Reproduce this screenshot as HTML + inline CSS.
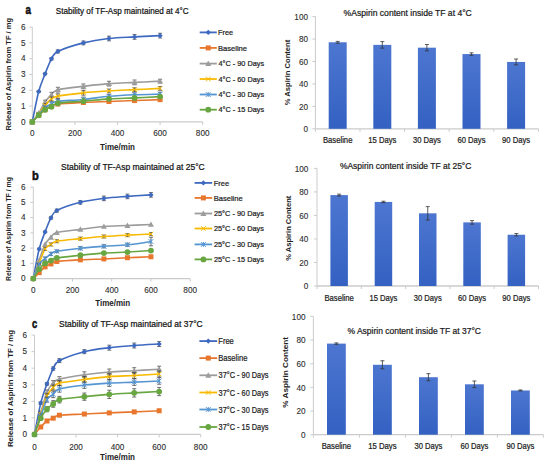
<!DOCTYPE html><html><head><meta charset="utf-8"><style>html,body{margin:0;padding:0;background:#fff;}svg{display:block;}body{width:550px;height:466px;overflow:hidden;}text{font-family:"Liberation Sans", sans-serif;}</style></head><body>
<svg width="550" height="466" viewBox="0 0 550 466">
<defs><linearGradient id="bg" x1="0" y1="0" x2="0" y2="1"><stop offset="0" stop-color="#4C76D0"/><stop offset="1" stop-color="#3461C2"/></linearGradient></defs>
<rect width="550" height="466" fill="#fff"/>
<g stroke="#CBCBCB" stroke-width="1" fill="none">
<line x1="32.30" y1="27.10" x2="32.30" y2="121.90"/>
<line x1="29.30" y1="121.90" x2="32.30" y2="121.90"/>
<line x1="29.30" y1="106.10" x2="32.30" y2="106.10"/>
<line x1="29.30" y1="90.30" x2="32.30" y2="90.30"/>
<line x1="29.30" y1="74.50" x2="32.30" y2="74.50"/>
<line x1="29.30" y1="58.70" x2="32.30" y2="58.70"/>
<line x1="29.30" y1="42.90" x2="32.30" y2="42.90"/>
<line x1="29.30" y1="27.10" x2="32.30" y2="27.10"/>
</g>
<g stroke="#CBCBCB" stroke-width="1.4" fill="none">
<line x1="32.30" y1="121.90" x2="202.70" y2="121.90"/>
</g>
<g stroke="#CBCBCB" stroke-width="1" fill="none">
<line x1="32.30" y1="121.90" x2="32.30" y2="124.90"/>
<line x1="74.90" y1="121.90" x2="74.90" y2="124.90"/>
<line x1="117.50" y1="121.90" x2="117.50" y2="124.90"/>
<line x1="160.10" y1="121.90" x2="160.10" y2="124.90"/>
<line x1="202.70" y1="121.90" x2="202.70" y2="124.90"/>
</g>
<text x="25.50" y="124.65" font-size="8.20" text-anchor="end" fill="#2e2e2e" stroke="#2e2e2e" stroke-width="0.10">0</text>
<text x="25.50" y="108.85" font-size="8.20" text-anchor="end" fill="#2e2e2e" stroke="#2e2e2e" stroke-width="0.10">1</text>
<text x="25.50" y="93.05" font-size="8.20" text-anchor="end" fill="#2e2e2e" stroke="#2e2e2e" stroke-width="0.10">2</text>
<text x="25.50" y="77.25" font-size="8.20" text-anchor="end" fill="#2e2e2e" stroke="#2e2e2e" stroke-width="0.10">3</text>
<text x="25.50" y="61.45" font-size="8.20" text-anchor="end" fill="#2e2e2e" stroke="#2e2e2e" stroke-width="0.10">4</text>
<text x="25.50" y="45.65" font-size="8.20" text-anchor="end" fill="#2e2e2e" stroke="#2e2e2e" stroke-width="0.10">5</text>
<text x="25.50" y="29.85" font-size="8.20" text-anchor="end" fill="#2e2e2e" stroke="#2e2e2e" stroke-width="0.10">6</text>
<text x="32.30" y="136.10" font-size="8.20" text-anchor="middle" fill="#2e2e2e" stroke="#2e2e2e" stroke-width="0.10">0</text>
<text x="74.90" y="136.10" font-size="8.20" text-anchor="middle" fill="#2e2e2e" stroke="#2e2e2e" stroke-width="0.10">200</text>
<text x="117.50" y="136.10" font-size="8.20" text-anchor="middle" fill="#2e2e2e" stroke="#2e2e2e" stroke-width="0.10">400</text>
<text x="160.10" y="136.10" font-size="8.20" text-anchor="middle" fill="#2e2e2e" stroke="#2e2e2e" stroke-width="0.10">600</text>
<text x="202.70" y="136.10" font-size="8.20" text-anchor="middle" fill="#2e2e2e" stroke="#2e2e2e" stroke-width="0.10">800</text>
<path d="M32.30,121.90 C33.36,116.84 36.56,99.57 38.69,91.56 C40.82,83.56 42.95,79.32 45.08,73.87 C47.21,68.42 49.34,62.60 51.47,58.86 C53.60,55.12 52.53,54.09 57.86,51.43 C63.18,48.77 74.90,45.06 83.42,42.90 C91.94,40.74 100.46,39.48 108.98,38.48 C117.50,37.48 126.02,37.37 134.54,36.90 C143.06,36.42 155.84,35.84 160.10,35.63" stroke="#3D69C0" stroke-width="1.6" fill="none"/>
<g stroke="#3a3a3a" stroke-width="0.7">
<path d="M38.69,90.62 V92.51 M36.69,90.62 h4 M36.69,92.51 h4"/>
<path d="M45.08,72.92 V74.82 M43.08,72.92 h4 M43.08,74.82 h4"/>
<path d="M51.47,57.59 V60.12 M49.47,57.59 h4 M49.47,60.12 h4"/>
<path d="M57.86,49.85 V53.01 M55.86,49.85 h4 M55.86,53.01 h4"/>
<path d="M83.42,41.00 V44.80 M81.42,41.00 h4 M81.42,44.80 h4"/>
<path d="M108.98,36.11 V40.85 M106.98,36.11 h4 M106.98,40.85 h4"/>
<path d="M134.54,34.53 V39.27 M132.54,34.53 h4 M132.54,39.27 h4"/>
<path d="M160.10,33.26 V38.00 M158.10,33.26 h4 M158.10,38.00 h4"/>
</g>
<path d="M32.30,119.30 L34.90,121.90 L32.30,124.50 L29.70,121.90 Z" fill="#3D69C0"/>
<path d="M38.69,88.96 L41.29,91.56 L38.69,94.16 L36.09,91.56 Z" fill="#3D69C0"/>
<path d="M45.08,71.27 L47.68,73.87 L45.08,76.47 L42.48,73.87 Z" fill="#3D69C0"/>
<path d="M51.47,56.26 L54.07,58.86 L51.47,61.46 L48.87,58.86 Z" fill="#3D69C0"/>
<path d="M57.86,48.83 L60.46,51.43 L57.86,54.03 L55.26,51.43 Z" fill="#3D69C0"/>
<path d="M83.42,40.30 L86.02,42.90 L83.42,45.50 L80.82,42.90 Z" fill="#3D69C0"/>
<path d="M108.98,35.88 L111.58,38.48 L108.98,41.08 L106.38,38.48 Z" fill="#3D69C0"/>
<path d="M134.54,34.30 L137.14,36.90 L134.54,39.50 L131.94,36.90 Z" fill="#3D69C0"/>
<path d="M160.10,33.03 L162.70,35.63 L160.10,38.23 L157.50,35.63 Z" fill="#3D69C0"/>
<path d="M32.30,121.90 C33.36,120.79 36.56,117.29 38.69,115.26 C40.82,113.24 42.95,111.21 45.08,109.73 C47.21,108.26 49.34,107.36 51.47,106.42 C53.60,105.47 52.53,104.70 57.86,104.05 C63.18,103.39 74.90,102.89 83.42,102.47 C91.94,102.04 100.46,101.83 108.98,101.52 C117.50,101.20 126.02,100.89 134.54,100.57 C143.06,100.25 155.84,99.78 160.10,99.62" stroke="#E8772D" stroke-width="1.6" fill="none"/>
<rect x="29.80" y="119.40" width="5.00" height="5.00" fill="#E8772D"/>
<rect x="36.19" y="112.76" width="5.00" height="5.00" fill="#E8772D"/>
<rect x="42.58" y="107.23" width="5.00" height="5.00" fill="#E8772D"/>
<rect x="48.97" y="103.92" width="5.00" height="5.00" fill="#E8772D"/>
<rect x="55.36" y="101.55" width="5.00" height="5.00" fill="#E8772D"/>
<rect x="80.92" y="99.97" width="5.00" height="5.00" fill="#E8772D"/>
<rect x="106.48" y="99.02" width="5.00" height="5.00" fill="#E8772D"/>
<rect x="132.04" y="98.07" width="5.00" height="5.00" fill="#E8772D"/>
<rect x="157.60" y="97.12" width="5.00" height="5.00" fill="#E8772D"/>
<path d="M32.30,121.90 C33.36,120.45 36.56,116.55 38.69,113.21 C40.82,109.87 42.95,104.92 45.08,101.83 C47.21,98.75 49.34,96.75 51.47,94.72 C53.60,92.70 52.53,91.06 57.86,89.67 C63.18,88.27 74.90,87.35 83.42,86.35 C91.94,85.35 100.46,84.32 108.98,83.66 C117.50,83.01 126.02,82.82 134.54,82.40 C143.06,81.98 155.84,81.35 160.10,81.14" stroke="#9C9C9C" stroke-width="1.6" fill="none"/>
<g stroke="#3a3a3a" stroke-width="0.7">
<path d="M38.69,112.42 V114.00 M36.69,112.42 h4 M36.69,114.00 h4"/>
<path d="M45.08,100.25 V103.41 M43.08,100.25 h4 M43.08,103.41 h4"/>
<path d="M51.47,92.35 V97.09 M49.47,92.35 h4 M49.47,97.09 h4"/>
<path d="M57.86,87.30 V92.04 M55.86,87.30 h4 M55.86,92.04 h4"/>
<path d="M83.42,83.98 V88.72 M81.42,83.98 h4 M81.42,88.72 h4"/>
<path d="M108.98,81.29 V86.03 M106.98,81.29 h4 M106.98,86.03 h4"/>
<path d="M134.54,80.03 V84.77 M132.54,80.03 h4 M132.54,84.77 h4"/>
<path d="M160.10,79.24 V83.03 M158.10,79.24 h4 M158.10,83.03 h4"/>
</g>
<path d="M32.30,118.90 L35.30,124.30 L29.30,124.30 Z" fill="#9C9C9C"/>
<path d="M38.69,110.21 L41.69,115.61 L35.69,115.61 Z" fill="#9C9C9C"/>
<path d="M45.08,98.83 L48.08,104.23 L42.08,104.23 Z" fill="#9C9C9C"/>
<path d="M51.47,91.72 L54.47,97.12 L48.47,97.12 Z" fill="#9C9C9C"/>
<path d="M57.86,86.67 L60.86,92.07 L54.86,92.07 Z" fill="#9C9C9C"/>
<path d="M83.42,83.35 L86.42,88.75 L80.42,88.75 Z" fill="#9C9C9C"/>
<path d="M108.98,80.66 L111.98,86.06 L105.98,86.06 Z" fill="#9C9C9C"/>
<path d="M134.54,79.40 L137.54,84.80 L131.54,84.80 Z" fill="#9C9C9C"/>
<path d="M160.10,78.14 L163.10,83.54 L157.10,83.54 Z" fill="#9C9C9C"/>
<path d="M32.30,121.90 C33.36,120.58 36.56,116.77 38.69,114.00 C40.82,111.23 42.95,107.81 45.08,105.31 C47.21,102.81 49.34,100.52 51.47,98.99 C53.60,97.46 52.53,97.17 57.86,96.15 C63.18,95.12 74.90,93.70 83.42,92.83 C91.94,91.96 100.46,91.46 108.98,90.93 C117.50,90.41 126.02,90.09 134.54,89.67 C143.06,89.25 155.84,88.61 160.10,88.40" stroke="#F8BA00" stroke-width="1.6" fill="none"/>
<g stroke="#3a3a3a" stroke-width="0.7">
<path d="M38.69,113.21 V114.79 M36.69,113.21 h4 M36.69,114.79 h4"/>
<path d="M45.08,103.73 V106.89 M43.08,103.73 h4 M43.08,106.89 h4"/>
<path d="M51.47,97.09 V100.89 M49.47,97.09 h4 M49.47,100.89 h4"/>
<path d="M57.86,93.78 V98.52 M55.86,93.78 h4 M55.86,98.52 h4"/>
<path d="M83.42,90.46 V95.20 M81.42,90.46 h4 M81.42,95.20 h4"/>
<path d="M108.98,89.04 V92.83 M106.98,89.04 h4 M106.98,92.83 h4"/>
<path d="M134.54,87.77 V91.56 M132.54,87.77 h4 M132.54,91.56 h4"/>
<path d="M160.10,86.51 V90.30 M158.10,86.51 h4 M158.10,90.30 h4"/>
</g>
<path d="M30.00,119.60 L34.60,124.20 M30.00,124.20 L34.60,119.60" stroke="#F8BA00" stroke-width="1"/>
<path d="M36.39,111.70 L40.99,116.30 M36.39,116.30 L40.99,111.70" stroke="#F8BA00" stroke-width="1"/>
<path d="M42.78,103.01 L47.38,107.61 M42.78,107.61 L47.38,103.01" stroke="#F8BA00" stroke-width="1"/>
<path d="M49.17,96.69 L53.77,101.29 M49.17,101.29 L53.77,96.69" stroke="#F8BA00" stroke-width="1"/>
<path d="M55.56,93.85 L60.16,98.45 M55.56,98.45 L60.16,93.85" stroke="#F8BA00" stroke-width="1"/>
<path d="M81.12,90.53 L85.72,95.13 M81.12,95.13 L85.72,90.53" stroke="#F8BA00" stroke-width="1"/>
<path d="M106.68,88.63 L111.28,93.23 M106.68,93.23 L111.28,88.63" stroke="#F8BA00" stroke-width="1"/>
<path d="M132.24,87.37 L136.84,91.97 M132.24,91.97 L136.84,87.37" stroke="#F8BA00" stroke-width="1"/>
<path d="M157.80,86.10 L162.40,90.70 M157.80,90.70 L162.40,86.10" stroke="#F8BA00" stroke-width="1"/>
<path d="M32.30,121.90 C33.36,120.72 36.56,117.16 38.69,114.79 C40.82,112.42 42.95,109.52 45.08,107.68 C47.21,105.84 49.34,104.81 51.47,103.73 C53.60,102.65 52.53,101.91 57.86,101.20 C63.18,100.49 74.90,100.28 83.42,99.46 C91.94,98.65 100.46,97.09 108.98,96.30 C117.50,95.51 126.02,95.09 134.54,94.72 C143.06,94.36 155.84,94.20 160.10,94.09" stroke="#5595D2" stroke-width="1.6" fill="none"/>
<g stroke="#3a3a3a" stroke-width="0.7">
<path d="M38.69,114.00 V115.58 M36.69,114.00 h4 M36.69,115.58 h4"/>
<path d="M45.08,106.10 V109.26 M43.08,106.10 h4 M43.08,109.26 h4"/>
<path d="M51.47,101.83 V105.63 M49.47,101.83 h4 M49.47,105.63 h4"/>
<path d="M57.86,99.31 V103.10 M55.86,99.31 h4 M55.86,103.10 h4"/>
<path d="M83.42,97.09 V101.83 M81.42,97.09 h4 M81.42,101.83 h4"/>
<path d="M108.98,94.41 V98.20 M106.98,94.41 h4 M106.98,98.20 h4"/>
<path d="M134.54,92.83 V96.62 M132.54,92.83 h4 M132.54,96.62 h4"/>
<path d="M160.10,92.20 V95.99 M158.10,92.20 h4 M158.10,95.99 h4"/>
</g>
<path d="M29.90,119.50 L34.70,124.30 M29.90,124.30 L34.70,119.50 M32.30,119.50 L32.30,124.30" stroke="#5595D2" stroke-width="1"/>
<path d="M36.29,112.39 L41.09,117.19 M36.29,117.19 L41.09,112.39 M38.69,112.39 L38.69,117.19" stroke="#5595D2" stroke-width="1"/>
<path d="M42.68,105.28 L47.48,110.08 M42.68,110.08 L47.48,105.28 M45.08,105.28 L45.08,110.08" stroke="#5595D2" stroke-width="1"/>
<path d="M49.07,101.33 L53.87,106.13 M49.07,106.13 L53.87,101.33 M51.47,101.33 L51.47,106.13" stroke="#5595D2" stroke-width="1"/>
<path d="M55.46,98.80 L60.26,103.60 M55.46,103.60 L60.26,98.80 M57.86,98.80 L57.86,103.60" stroke="#5595D2" stroke-width="1"/>
<path d="M81.02,97.06 L85.82,101.86 M81.02,101.86 L85.82,97.06 M83.42,97.06 L83.42,101.86" stroke="#5595D2" stroke-width="1"/>
<path d="M106.58,93.90 L111.38,98.70 M106.58,98.70 L111.38,93.90 M108.98,93.90 L108.98,98.70" stroke="#5595D2" stroke-width="1"/>
<path d="M132.14,92.32 L136.94,97.12 M132.14,97.12 L136.94,92.32 M134.54,92.32 L134.54,97.12" stroke="#5595D2" stroke-width="1"/>
<path d="M157.70,91.69 L162.50,96.49 M157.70,96.49 L162.50,91.69 M160.10,91.69 L160.10,96.49" stroke="#5595D2" stroke-width="1"/>
<path d="M32.30,121.90 C33.36,120.79 36.56,117.29 38.69,115.26 C40.82,113.24 42.95,111.16 45.08,109.73 C47.21,108.31 49.34,107.81 51.47,106.73 C53.60,105.65 52.53,104.18 57.86,103.26 C63.18,102.33 74.90,101.94 83.42,101.20 C91.94,100.46 100.46,99.39 108.98,98.83 C117.50,98.28 126.02,98.25 134.54,97.88 C143.06,97.52 155.84,96.83 160.10,96.62" stroke="#68A642" stroke-width="1.6" fill="none"/>
<circle cx="32.30" cy="121.90" r="2.90" fill="#68A642"/>
<circle cx="38.69" cy="115.26" r="2.90" fill="#68A642"/>
<circle cx="45.08" cy="109.73" r="2.90" fill="#68A642"/>
<circle cx="51.47" cy="106.73" r="2.90" fill="#68A642"/>
<circle cx="57.86" cy="103.26" r="2.90" fill="#68A642"/>
<circle cx="83.42" cy="101.20" r="2.90" fill="#68A642"/>
<circle cx="108.98" cy="98.83" r="2.90" fill="#68A642"/>
<circle cx="134.54" cy="97.88" r="2.90" fill="#68A642"/>
<circle cx="160.10" cy="96.62" r="2.90" fill="#68A642"/>
<text x="55.74" y="13.60" font-size="8.70" text-anchor="start" fill="#111" stroke="#111" stroke-width="0.22" textLength="132.86" lengthAdjust="spacingAndGlyphs">Stability of TF-Asp maintained at 4°C</text>
<text x="25.62" y="14.00" font-size="13.20" text-anchor="start" fill="#111" font-weight="bold" stroke="#111" stroke-width="0.60" textLength="5.42" lengthAdjust="spacingAndGlyphs">a</text>
<text x="117.50" y="149.50" font-size="8.20" text-anchor="middle" fill="#222" font-weight="bold" textLength="35.00" lengthAdjust="spacingAndGlyphs">Time/min</text>
<text x="11.30" y="74.30" font-size="7.80" text-anchor="middle" fill="#222" font-weight="bold" textLength="112.60" lengthAdjust="spacingAndGlyphs" transform="rotate(-90 11.30 74.30)">Release of Aspirin from TF / mg</text>
<line x1="199.70" y1="32.40" x2="216.80" y2="32.40" stroke="#3D69C0" stroke-width="1.8"/>
<path d="M208.25,29.80 L210.85,32.40 L208.25,35.00 L205.65,32.40 Z" fill="#3D69C0"/>
<text x="218.00" y="35.00" font-size="7.60" text-anchor="start" fill="#222" stroke="#222" stroke-width="0.22" textLength="15.02" lengthAdjust="spacingAndGlyphs">Free</text>
<line x1="199.70" y1="47.90" x2="216.80" y2="47.90" stroke="#E8772D" stroke-width="1.8"/>
<rect x="205.75" y="45.40" width="5.00" height="5.00" fill="#E8772D"/>
<text x="217.98" y="50.50" font-size="7.60" text-anchor="start" fill="#222" stroke="#222" stroke-width="0.22" textLength="29.05" lengthAdjust="spacingAndGlyphs">Baseline</text>
<line x1="199.70" y1="63.60" x2="216.80" y2="63.60" stroke="#9C9C9C" stroke-width="1.8"/>
<path d="M208.25,60.60 L211.25,66.00 L205.25,66.00 Z" fill="#9C9C9C"/>
<text x="218.44" y="66.20" font-size="7.60" text-anchor="start" fill="#222" stroke="#222" stroke-width="0.22" textLength="45.73" lengthAdjust="spacingAndGlyphs">4°C - 90 Days</text>
<line x1="199.70" y1="79.00" x2="216.80" y2="79.00" stroke="#F8BA00" stroke-width="1.8"/>
<path d="M205.95,76.70 L210.55,81.30 M205.95,81.30 L210.55,76.70" stroke="#F8BA00" stroke-width="1"/>
<text x="218.44" y="81.60" font-size="7.60" text-anchor="start" fill="#222" stroke="#222" stroke-width="0.22" textLength="45.73" lengthAdjust="spacingAndGlyphs">4°C - 60 Days</text>
<line x1="199.70" y1="94.50" x2="216.80" y2="94.50" stroke="#5595D2" stroke-width="1.8"/>
<path d="M205.85,92.10 L210.65,96.90 M205.85,96.90 L210.65,92.10 M208.25,92.10 L208.25,96.90" stroke="#5595D2" stroke-width="1"/>
<text x="218.44" y="97.10" font-size="7.60" text-anchor="start" fill="#222" stroke="#222" stroke-width="0.22" textLength="45.73" lengthAdjust="spacingAndGlyphs">4°C - 30 Days</text>
<line x1="199.70" y1="109.70" x2="216.80" y2="109.70" stroke="#68A642" stroke-width="1.8"/>
<circle cx="208.25" cy="109.70" r="2.90" fill="#68A642"/>
<text x="218.44" y="112.30" font-size="7.60" text-anchor="start" fill="#222" stroke="#222" stroke-width="0.22" textLength="45.73" lengthAdjust="spacingAndGlyphs">4°C - 15 Days</text>
<g stroke="#CBCBCB" stroke-width="1" fill="none">
<line x1="33.30" y1="187.10" x2="33.30" y2="278.60"/>
<line x1="30.30" y1="278.60" x2="33.30" y2="278.60"/>
<line x1="30.30" y1="263.35" x2="33.30" y2="263.35"/>
<line x1="30.30" y1="248.10" x2="33.30" y2="248.10"/>
<line x1="30.30" y1="232.85" x2="33.30" y2="232.85"/>
<line x1="30.30" y1="217.60" x2="33.30" y2="217.60"/>
<line x1="30.30" y1="202.35" x2="33.30" y2="202.35"/>
<line x1="30.30" y1="187.10" x2="33.30" y2="187.10"/>
</g>
<g stroke="#CBCBCB" stroke-width="1.4" fill="none">
<line x1="33.30" y1="278.60" x2="190.20" y2="278.60"/>
</g>
<g stroke="#CBCBCB" stroke-width="1" fill="none">
<line x1="33.30" y1="278.60" x2="33.30" y2="281.60"/>
<line x1="72.52" y1="278.60" x2="72.52" y2="281.60"/>
<line x1="111.75" y1="278.60" x2="111.75" y2="281.60"/>
<line x1="150.97" y1="278.60" x2="150.97" y2="281.60"/>
<line x1="190.20" y1="278.60" x2="190.20" y2="281.60"/>
</g>
<text x="25.50" y="281.35" font-size="8.20" text-anchor="end" fill="#2e2e2e" stroke="#2e2e2e" stroke-width="0.10">0</text>
<text x="25.50" y="266.10" font-size="8.20" text-anchor="end" fill="#2e2e2e" stroke="#2e2e2e" stroke-width="0.10">1</text>
<text x="25.50" y="250.85" font-size="8.20" text-anchor="end" fill="#2e2e2e" stroke="#2e2e2e" stroke-width="0.10">2</text>
<text x="25.50" y="235.60" font-size="8.20" text-anchor="end" fill="#2e2e2e" stroke="#2e2e2e" stroke-width="0.10">3</text>
<text x="25.50" y="220.35" font-size="8.20" text-anchor="end" fill="#2e2e2e" stroke="#2e2e2e" stroke-width="0.10">4</text>
<text x="25.50" y="205.10" font-size="8.20" text-anchor="end" fill="#2e2e2e" stroke="#2e2e2e" stroke-width="0.10">5</text>
<text x="25.50" y="189.85" font-size="8.20" text-anchor="end" fill="#2e2e2e" stroke="#2e2e2e" stroke-width="0.10">6</text>
<text x="33.30" y="292.90" font-size="8.20" text-anchor="middle" fill="#2e2e2e" stroke="#2e2e2e" stroke-width="0.10">0</text>
<text x="72.52" y="292.90" font-size="8.20" text-anchor="middle" fill="#2e2e2e" stroke="#2e2e2e" stroke-width="0.10">200</text>
<text x="111.75" y="292.90" font-size="8.20" text-anchor="middle" fill="#2e2e2e" stroke="#2e2e2e" stroke-width="0.10">400</text>
<text x="150.97" y="292.90" font-size="8.20" text-anchor="middle" fill="#2e2e2e" stroke="#2e2e2e" stroke-width="0.10">600</text>
<text x="190.20" y="292.90" font-size="8.20" text-anchor="middle" fill="#2e2e2e" stroke="#2e2e2e" stroke-width="0.10">800</text>
<path d="M33.30,278.60 C34.28,273.67 37.22,256.79 39.18,249.02 C41.14,241.24 43.11,237.12 45.07,231.94 C47.03,226.75 48.99,221.46 50.95,217.91 C52.91,214.35 51.93,213.18 56.83,210.59 C61.74,207.99 72.52,204.38 80.37,202.35 C88.21,200.32 96.06,199.38 103.90,198.39 C111.75,197.39 119.59,196.99 127.44,196.40 C135.28,195.82 147.05,195.13 150.97,194.88" stroke="#3D69C0" stroke-width="1.6" fill="none"/>
<g stroke="#3a3a3a" stroke-width="0.7">
<path d="M39.18,248.10 V249.93 M37.18,248.10 h4 M37.18,249.93 h4"/>
<path d="M45.07,231.02 V232.85 M43.07,231.02 h4 M43.07,232.85 h4"/>
<path d="M50.95,216.69 V219.13 M48.95,216.69 h4 M48.95,219.13 h4"/>
<path d="M56.83,209.06 V212.11 M54.83,209.06 h4 M54.83,212.11 h4"/>
<path d="M80.37,200.52 V204.18 M78.37,200.52 h4 M78.37,204.18 h4"/>
<path d="M103.90,196.10 V200.67 M101.90,196.10 h4 M101.90,200.67 h4"/>
<path d="M127.44,194.12 V198.69 M125.44,194.12 h4 M125.44,198.69 h4"/>
<path d="M150.97,192.59 V197.17 M148.97,192.59 h4 M148.97,197.17 h4"/>
</g>
<path d="M33.30,276.00 L35.90,278.60 L33.30,281.20 L30.70,278.60 Z" fill="#3D69C0"/>
<path d="M39.18,246.42 L41.78,249.02 L39.18,251.62 L36.58,249.02 Z" fill="#3D69C0"/>
<path d="M45.07,229.34 L47.67,231.94 L45.07,234.54 L42.47,231.94 Z" fill="#3D69C0"/>
<path d="M50.95,215.31 L53.55,217.91 L50.95,220.51 L48.35,217.91 Z" fill="#3D69C0"/>
<path d="M56.83,207.99 L59.43,210.59 L56.83,213.19 L54.23,210.59 Z" fill="#3D69C0"/>
<path d="M80.37,199.75 L82.97,202.35 L80.37,204.95 L77.77,202.35 Z" fill="#3D69C0"/>
<path d="M103.90,195.79 L106.50,198.39 L103.90,200.99 L101.30,198.39 Z" fill="#3D69C0"/>
<path d="M127.44,193.80 L130.04,196.40 L127.44,199.00 L124.84,196.40 Z" fill="#3D69C0"/>
<path d="M150.97,192.28 L153.57,194.88 L150.97,197.48 L148.37,194.88 Z" fill="#3D69C0"/>
<path d="M33.30,278.60 C34.28,277.61 37.22,274.61 39.18,272.65 C41.14,270.70 43.11,268.31 45.07,266.86 C47.03,265.41 48.99,264.85 50.95,263.96 C52.91,263.07 51.93,262.21 56.83,261.52 C61.74,260.83 72.52,260.27 80.37,259.84 C88.21,259.41 96.06,259.28 103.90,258.93 C111.75,258.57 119.59,258.06 127.44,257.71 C135.28,257.35 147.05,256.95 150.97,256.79" stroke="#E8772D" stroke-width="1.6" fill="none"/>
<rect x="30.80" y="276.10" width="5.00" height="5.00" fill="#E8772D"/>
<rect x="36.68" y="270.15" width="5.00" height="5.00" fill="#E8772D"/>
<rect x="42.57" y="264.36" width="5.00" height="5.00" fill="#E8772D"/>
<rect x="48.45" y="261.46" width="5.00" height="5.00" fill="#E8772D"/>
<rect x="54.33" y="259.02" width="5.00" height="5.00" fill="#E8772D"/>
<rect x="77.87" y="257.34" width="5.00" height="5.00" fill="#E8772D"/>
<rect x="101.40" y="256.43" width="5.00" height="5.00" fill="#E8772D"/>
<rect x="124.94" y="255.21" width="5.00" height="5.00" fill="#E8772D"/>
<rect x="148.47" y="254.29" width="5.00" height="5.00" fill="#E8772D"/>
<path d="M33.30,278.60 C34.28,275.55 37.22,265.99 39.18,260.30 C41.14,254.61 43.11,248.28 45.07,244.44 C47.03,240.60 48.99,239.26 50.95,237.27 C52.91,235.29 51.93,233.87 56.83,232.55 C61.74,231.22 72.52,230.36 80.37,229.34 C88.21,228.33 96.06,227.08 103.90,226.45 C111.75,225.81 119.59,225.86 127.44,225.53 C135.28,225.20 147.05,224.64 150.97,224.46" stroke="#9C9C9C" stroke-width="1.6" fill="none"/>
<path d="M33.30,275.60 L36.30,281.00 L30.30,281.00 Z" fill="#9C9C9C"/>
<path d="M39.18,257.30 L42.18,262.70 L36.18,262.70 Z" fill="#9C9C9C"/>
<path d="M45.07,241.44 L48.07,246.84 L42.07,246.84 Z" fill="#9C9C9C"/>
<path d="M50.95,234.27 L53.95,239.67 L47.95,239.67 Z" fill="#9C9C9C"/>
<path d="M56.83,229.55 L59.83,234.95 L53.83,234.95 Z" fill="#9C9C9C"/>
<path d="M80.37,226.34 L83.37,231.74 L77.37,231.74 Z" fill="#9C9C9C"/>
<path d="M103.90,223.45 L106.90,228.85 L100.90,228.85 Z" fill="#9C9C9C"/>
<path d="M127.44,222.53 L130.44,227.93 L124.44,227.93 Z" fill="#9C9C9C"/>
<path d="M150.97,221.46 L153.97,226.86 L147.97,226.86 Z" fill="#9C9C9C"/>
<path d="M33.30,278.60 C34.28,276.06 37.22,268.31 39.18,263.35 C41.14,258.39 43.11,252.01 45.07,248.86 C47.03,245.71 48.99,245.71 50.95,244.44 C52.91,243.17 51.93,242.20 56.83,241.24 C61.74,240.27 72.52,239.43 80.37,238.65 C88.21,237.86 96.06,237.09 103.90,236.51 C111.75,235.93 119.59,235.54 127.44,235.14 C135.28,234.73 147.05,234.25 150.97,234.07" stroke="#F8BA00" stroke-width="1.6" fill="none"/>
<g stroke="#3a3a3a" stroke-width="0.7">
<path d="M39.18,262.59 V264.11 M37.18,262.59 h4 M37.18,264.11 h4"/>
<path d="M45.07,247.34 V250.39 M43.07,247.34 h4 M43.07,250.39 h4"/>
<path d="M50.95,242.92 V245.97 M48.95,242.92 h4 M48.95,245.97 h4"/>
<path d="M56.83,239.71 V242.76 M54.83,239.71 h4 M54.83,242.76 h4"/>
<path d="M80.37,237.12 V240.17 M78.37,237.12 h4 M78.37,240.17 h4"/>
<path d="M103.90,234.99 V238.04 M101.90,234.99 h4 M101.90,238.04 h4"/>
<path d="M127.44,233.61 V236.66 M125.44,233.61 h4 M125.44,236.66 h4"/>
<path d="M150.97,232.55 V235.60 M148.97,232.55 h4 M148.97,235.60 h4"/>
</g>
<path d="M31.00,276.30 L35.60,280.90 M31.00,280.90 L35.60,276.30" stroke="#F8BA00" stroke-width="1"/>
<path d="M36.88,261.05 L41.48,265.65 M36.88,265.65 L41.48,261.05" stroke="#F8BA00" stroke-width="1"/>
<path d="M42.77,246.56 L47.37,251.16 M42.77,251.16 L47.37,246.56" stroke="#F8BA00" stroke-width="1"/>
<path d="M48.65,242.14 L53.25,246.74 M48.65,246.74 L53.25,242.14" stroke="#F8BA00" stroke-width="1"/>
<path d="M54.53,238.94 L59.13,243.54 M54.53,243.54 L59.13,238.94" stroke="#F8BA00" stroke-width="1"/>
<path d="M78.07,236.35 L82.67,240.95 M78.07,240.95 L82.67,236.35" stroke="#F8BA00" stroke-width="1"/>
<path d="M101.60,234.21 L106.20,238.81 M101.60,238.81 L106.20,234.21" stroke="#F8BA00" stroke-width="1"/>
<path d="M125.14,232.84 L129.74,237.44 M125.14,237.44 L129.74,232.84" stroke="#F8BA00" stroke-width="1"/>
<path d="M148.67,231.77 L153.27,236.37 M148.67,236.37 L153.27,231.77" stroke="#F8BA00" stroke-width="1"/>
<path d="M33.30,278.60 C34.28,276.19 37.22,267.44 39.18,264.11 C41.14,260.78 43.11,260.33 45.07,258.62 C47.03,256.92 48.99,255.12 50.95,253.90 C52.91,252.68 51.93,252.24 56.83,251.30 C61.74,250.36 72.52,249.09 80.37,248.25 C88.21,247.41 96.06,246.85 103.90,246.27 C111.75,245.69 119.59,245.53 127.44,244.75 C135.28,243.96 147.05,242.08 150.97,241.54" stroke="#5595D2" stroke-width="1.6" fill="none"/>
<g stroke="#3a3a3a" stroke-width="0.7">
<path d="M39.18,263.35 V264.88 M37.18,263.35 h4 M37.18,264.88 h4"/>
<path d="M45.07,257.10 V260.15 M43.07,257.10 h4 M43.07,260.15 h4"/>
<path d="M50.95,252.37 V255.42 M48.95,252.37 h4 M48.95,255.42 h4"/>
<path d="M56.83,250.08 V252.52 M54.83,250.08 h4 M54.83,252.52 h4"/>
<path d="M80.37,246.73 V249.78 M78.37,246.73 h4 M78.37,249.78 h4"/>
<path d="M103.90,244.75 V247.80 M101.90,244.75 h4 M101.90,247.80 h4"/>
<path d="M127.44,243.22 V246.27 M125.44,243.22 h4 M125.44,246.27 h4"/>
<path d="M150.97,237.27 V245.81 M148.97,237.27 h4 M148.97,245.81 h4"/>
</g>
<path d="M30.90,276.20 L35.70,281.00 M30.90,281.00 L35.70,276.20 M33.30,276.20 L33.30,281.00" stroke="#5595D2" stroke-width="1"/>
<path d="M36.78,261.71 L41.58,266.51 M36.78,266.51 L41.58,261.71 M39.18,261.71 L39.18,266.51" stroke="#5595D2" stroke-width="1"/>
<path d="M42.67,256.22 L47.47,261.02 M42.67,261.02 L47.47,256.22 M45.07,256.22 L45.07,261.02" stroke="#5595D2" stroke-width="1"/>
<path d="M48.55,251.50 L53.35,256.30 M48.55,256.30 L53.35,251.50 M50.95,251.50 L50.95,256.30" stroke="#5595D2" stroke-width="1"/>
<path d="M54.43,248.90 L59.23,253.70 M54.43,253.70 L59.23,248.90 M56.83,248.90 L56.83,253.70" stroke="#5595D2" stroke-width="1"/>
<path d="M77.97,245.85 L82.77,250.65 M77.97,250.65 L82.77,245.85 M80.37,245.85 L80.37,250.65" stroke="#5595D2" stroke-width="1"/>
<path d="M101.50,243.87 L106.30,248.67 M101.50,248.67 L106.30,243.87 M103.90,243.87 L103.90,248.67" stroke="#5595D2" stroke-width="1"/>
<path d="M125.04,242.34 L129.84,247.15 M125.04,247.15 L129.84,242.34 M127.44,242.34 L127.44,247.15" stroke="#5595D2" stroke-width="1"/>
<path d="M148.57,239.14 L153.37,243.94 M148.57,243.94 L153.37,239.14 M150.97,239.14 L150.97,243.94" stroke="#5595D2" stroke-width="1"/>
<path d="M33.30,278.60 C34.28,277.02 37.22,271.69 39.18,269.15 C41.14,266.60 43.11,264.77 45.07,263.35 C47.03,261.93 48.99,261.52 50.95,260.61 C52.91,259.69 51.93,258.75 56.83,257.86 C61.74,256.97 72.52,256.06 80.37,255.27 C88.21,254.48 96.06,253.67 103.90,253.13 C111.75,252.60 119.59,252.50 127.44,252.07 C135.28,251.63 147.05,250.79 150.97,250.54" stroke="#68A642" stroke-width="1.6" fill="none"/>
<circle cx="33.30" cy="278.60" r="2.90" fill="#68A642"/>
<circle cx="39.18" cy="269.15" r="2.90" fill="#68A642"/>
<circle cx="45.07" cy="263.35" r="2.90" fill="#68A642"/>
<circle cx="50.95" cy="260.61" r="2.90" fill="#68A642"/>
<circle cx="56.83" cy="257.86" r="2.90" fill="#68A642"/>
<circle cx="80.37" cy="255.27" r="2.90" fill="#68A642"/>
<circle cx="103.90" cy="253.13" r="2.90" fill="#68A642"/>
<circle cx="127.44" cy="252.07" r="2.90" fill="#68A642"/>
<circle cx="150.97" cy="250.54" r="2.90" fill="#68A642"/>
<text x="61.12" y="170.00" font-size="8.70" text-anchor="start" fill="#111" stroke="#111" stroke-width="0.22" textLength="143.59" lengthAdjust="spacingAndGlyphs">Stability of TF-Asp maintained at 25°C</text>
<text x="31.98" y="180.10" font-size="13.20" text-anchor="start" fill="#111" font-weight="bold" stroke="#111" stroke-width="0.60" textLength="6.77" lengthAdjust="spacingAndGlyphs">b</text>
<text x="112.70" y="305.60" font-size="8.20" text-anchor="middle" fill="#222" font-weight="bold" textLength="35.00" lengthAdjust="spacingAndGlyphs">Time/min</text>
<text x="11.40" y="229.00" font-size="7.80" text-anchor="middle" fill="#222" font-weight="bold" textLength="104.00" lengthAdjust="spacingAndGlyphs" transform="rotate(-90 11.40 229.00)">Release of Aspirin from TF / mg</text>
<line x1="194.60" y1="182.90" x2="212.20" y2="182.90" stroke="#3D69C0" stroke-width="1.8"/>
<path d="M203.40,180.30 L206.00,182.90 L203.40,185.50 L200.80,182.90 Z" fill="#3D69C0"/>
<text x="213.68" y="185.50" font-size="7.60" text-anchor="start" fill="#222" stroke="#222" stroke-width="0.22" textLength="15.45" lengthAdjust="spacingAndGlyphs">Free</text>
<line x1="194.60" y1="197.90" x2="212.20" y2="197.90" stroke="#E8772D" stroke-width="1.8"/>
<rect x="200.90" y="195.40" width="5.00" height="5.00" fill="#E8772D"/>
<text x="213.68" y="200.50" font-size="7.60" text-anchor="start" fill="#222" stroke="#222" stroke-width="0.22" textLength="29.05" lengthAdjust="spacingAndGlyphs">Baseline</text>
<line x1="194.60" y1="213.50" x2="212.20" y2="213.50" stroke="#9C9C9C" stroke-width="1.8"/>
<path d="M203.40,210.50 L206.40,215.90 L200.40,215.90 Z" fill="#9C9C9C"/>
<text x="213.93" y="216.10" font-size="7.60" text-anchor="start" fill="#222" stroke="#222" stroke-width="0.22" textLength="50.03" lengthAdjust="spacingAndGlyphs">25°C - 90 Days</text>
<line x1="194.60" y1="228.50" x2="212.20" y2="228.50" stroke="#F8BA00" stroke-width="1.8"/>
<path d="M201.10,226.20 L205.70,230.80 M201.10,230.80 L205.70,226.20" stroke="#F8BA00" stroke-width="1"/>
<text x="213.93" y="231.10" font-size="7.60" text-anchor="start" fill="#222" stroke="#222" stroke-width="0.22" textLength="50.03" lengthAdjust="spacingAndGlyphs">25°C - 60 Days</text>
<line x1="194.60" y1="244.40" x2="212.20" y2="244.40" stroke="#5595D2" stroke-width="1.8"/>
<path d="M201.00,242.00 L205.80,246.80 M201.00,246.80 L205.80,242.00 M203.40,242.00 L203.40,246.80" stroke="#5595D2" stroke-width="1"/>
<text x="213.93" y="247.00" font-size="7.60" text-anchor="start" fill="#222" stroke="#222" stroke-width="0.22" textLength="50.03" lengthAdjust="spacingAndGlyphs">25°C - 30 Days</text>
<line x1="194.60" y1="259.40" x2="212.20" y2="259.40" stroke="#68A642" stroke-width="1.8"/>
<circle cx="203.40" cy="259.40" r="2.90" fill="#68A642"/>
<text x="213.93" y="262.00" font-size="7.60" text-anchor="start" fill="#222" stroke="#222" stroke-width="0.22" textLength="50.03" lengthAdjust="spacingAndGlyphs">25°C - 15 Days</text>
<g stroke="#CBCBCB" stroke-width="1" fill="none">
<line x1="34.50" y1="335.10" x2="34.50" y2="434.40"/>
<line x1="31.50" y1="434.40" x2="34.50" y2="434.40"/>
<line x1="31.50" y1="417.85" x2="34.50" y2="417.85"/>
<line x1="31.50" y1="401.30" x2="34.50" y2="401.30"/>
<line x1="31.50" y1="384.75" x2="34.50" y2="384.75"/>
<line x1="31.50" y1="368.20" x2="34.50" y2="368.20"/>
<line x1="31.50" y1="351.65" x2="34.50" y2="351.65"/>
<line x1="31.50" y1="335.10" x2="34.50" y2="335.10"/>
</g>
<g stroke="#CBCBCB" stroke-width="1.4" fill="none">
<line x1="34.50" y1="434.40" x2="200.70" y2="434.40"/>
</g>
<g stroke="#CBCBCB" stroke-width="1" fill="none">
<line x1="34.50" y1="434.40" x2="34.50" y2="437.40"/>
<line x1="76.05" y1="434.40" x2="76.05" y2="437.40"/>
<line x1="117.60" y1="434.40" x2="117.60" y2="437.40"/>
<line x1="159.15" y1="434.40" x2="159.15" y2="437.40"/>
<line x1="200.70" y1="434.40" x2="200.70" y2="437.40"/>
</g>
<text x="27.00" y="437.15" font-size="8.20" text-anchor="end" fill="#2e2e2e" stroke="#2e2e2e" stroke-width="0.10">0</text>
<text x="27.00" y="420.60" font-size="8.20" text-anchor="end" fill="#2e2e2e" stroke="#2e2e2e" stroke-width="0.10">1</text>
<text x="27.00" y="404.05" font-size="8.20" text-anchor="end" fill="#2e2e2e" stroke="#2e2e2e" stroke-width="0.10">2</text>
<text x="27.00" y="387.50" font-size="8.20" text-anchor="end" fill="#2e2e2e" stroke="#2e2e2e" stroke-width="0.10">3</text>
<text x="27.00" y="370.95" font-size="8.20" text-anchor="end" fill="#2e2e2e" stroke="#2e2e2e" stroke-width="0.10">4</text>
<text x="27.00" y="354.40" font-size="8.20" text-anchor="end" fill="#2e2e2e" stroke="#2e2e2e" stroke-width="0.10">5</text>
<text x="27.00" y="337.85" font-size="8.20" text-anchor="end" fill="#2e2e2e" stroke="#2e2e2e" stroke-width="0.10">6</text>
<text x="34.50" y="449.70" font-size="8.20" text-anchor="middle" fill="#2e2e2e" stroke="#2e2e2e" stroke-width="0.10">0</text>
<text x="76.05" y="449.70" font-size="8.20" text-anchor="middle" fill="#2e2e2e" stroke="#2e2e2e" stroke-width="0.10">200</text>
<text x="117.60" y="449.70" font-size="8.20" text-anchor="middle" fill="#2e2e2e" stroke="#2e2e2e" stroke-width="0.10">400</text>
<text x="159.15" y="449.70" font-size="8.20" text-anchor="middle" fill="#2e2e2e" stroke="#2e2e2e" stroke-width="0.10">600</text>
<text x="200.70" y="449.70" font-size="8.20" text-anchor="middle" fill="#2e2e2e" stroke="#2e2e2e" stroke-width="0.10">800</text>
<path d="M34.50,434.40 C35.54,429.19 38.66,411.53 40.73,403.12 C42.81,394.71 44.89,389.69 46.97,383.92 C49.04,378.16 51.12,372.42 53.20,368.53 C55.27,364.64 54.24,363.40 59.43,360.59 C64.62,357.77 76.05,353.80 84.36,351.65 C92.67,349.50 100.98,348.70 109.29,347.68 C117.60,346.66 125.91,346.13 134.22,345.53 C142.53,344.92 154.99,344.29 159.15,344.04" stroke="#3D69C0" stroke-width="1.6" fill="none"/>
<g stroke="#3a3a3a" stroke-width="0.7">
<path d="M40.73,401.80 V404.44 M38.73,401.80 h4 M38.73,404.44 h4"/>
<path d="M46.97,382.60 V385.25 M44.97,382.60 h4 M44.97,385.25 h4"/>
<path d="M53.20,366.88 V370.19 M51.20,366.88 h4 M51.20,370.19 h4"/>
<path d="M59.43,358.60 V362.57 M57.43,358.60 h4 M57.43,362.57 h4"/>
<path d="M84.36,349.66 V353.64 M82.36,349.66 h4 M82.36,353.64 h4"/>
<path d="M109.29,345.20 V350.16 M107.29,345.20 h4 M107.29,350.16 h4"/>
<path d="M134.22,343.04 V348.01 M132.22,343.04 h4 M132.22,348.01 h4"/>
<path d="M159.15,341.55 V346.52 M157.15,341.55 h4 M157.15,346.52 h4"/>
</g>
<path d="M34.50,431.80 L37.10,434.40 L34.50,437.00 L31.90,434.40 Z" fill="#3D69C0"/>
<path d="M40.73,400.52 L43.33,403.12 L40.73,405.72 L38.13,403.12 Z" fill="#3D69C0"/>
<path d="M46.97,381.32 L49.57,383.92 L46.97,386.52 L44.37,383.92 Z" fill="#3D69C0"/>
<path d="M53.20,365.93 L55.80,368.53 L53.20,371.13 L50.60,368.53 Z" fill="#3D69C0"/>
<path d="M59.43,357.99 L62.03,360.59 L59.43,363.19 L56.83,360.59 Z" fill="#3D69C0"/>
<path d="M84.36,349.05 L86.96,351.65 L84.36,354.25 L81.76,351.65 Z" fill="#3D69C0"/>
<path d="M109.29,345.08 L111.89,347.68 L109.29,350.28 L106.69,347.68 Z" fill="#3D69C0"/>
<path d="M134.22,342.93 L136.82,345.53 L134.22,348.13 L131.62,345.53 Z" fill="#3D69C0"/>
<path d="M159.15,341.44 L161.75,344.04 L159.15,346.64 L156.55,344.04 Z" fill="#3D69C0"/>
<path d="M34.50,434.40 C35.54,433.16 38.66,429.19 40.73,426.95 C42.81,424.72 44.89,422.46 46.97,420.99 C49.04,419.53 51.12,419.15 53.20,418.18 C55.27,417.22 54.24,415.89 59.43,415.20 C64.62,414.51 76.05,414.43 84.36,414.04 C92.67,413.66 100.98,413.24 109.29,412.88 C117.60,412.53 125.91,412.25 134.22,411.89 C142.53,411.53 154.99,410.93 159.15,410.73" stroke="#E8772D" stroke-width="1.6" fill="none"/>
<rect x="32.00" y="431.90" width="5.00" height="5.00" fill="#E8772D"/>
<rect x="38.23" y="424.45" width="5.00" height="5.00" fill="#E8772D"/>
<rect x="44.47" y="418.49" width="5.00" height="5.00" fill="#E8772D"/>
<rect x="50.70" y="415.68" width="5.00" height="5.00" fill="#E8772D"/>
<rect x="56.93" y="412.70" width="5.00" height="5.00" fill="#E8772D"/>
<rect x="81.86" y="411.54" width="5.00" height="5.00" fill="#E8772D"/>
<rect x="106.79" y="410.38" width="5.00" height="5.00" fill="#E8772D"/>
<rect x="131.72" y="409.39" width="5.00" height="5.00" fill="#E8772D"/>
<rect x="156.65" y="408.23" width="5.00" height="5.00" fill="#E8772D"/>
<path d="M34.50,434.40 C35.54,430.81 38.66,419.95 40.73,412.88 C42.81,405.82 44.89,397.00 46.97,392.03 C49.04,387.07 51.12,385.25 53.20,383.09 C55.27,380.94 54.24,380.50 59.43,379.12 C64.62,377.74 76.05,376.01 84.36,374.82 C92.67,373.63 100.98,372.70 109.29,372.01 C117.60,371.32 125.91,371.15 134.22,370.68 C142.53,370.21 154.99,369.44 159.15,369.19" stroke="#9C9C9C" stroke-width="1.6" fill="none"/>
<g stroke="#3a3a3a" stroke-width="0.7">
<path d="M40.73,411.56 V414.21 M38.73,411.56 h4 M38.73,414.21 h4"/>
<path d="M46.97,390.05 V394.02 M44.97,390.05 h4 M44.97,394.02 h4"/>
<path d="M53.20,380.61 V385.58 M51.20,380.61 h4 M51.20,385.58 h4"/>
<path d="M59.43,376.64 V381.61 M57.43,376.64 h4 M57.43,381.61 h4"/>
<path d="M84.36,371.84 V377.80 M82.36,371.84 h4 M82.36,377.80 h4"/>
<path d="M109.29,369.03 V374.99 M107.29,369.03 h4 M107.29,374.99 h4"/>
<path d="M134.22,367.70 V373.66 M132.22,367.70 h4 M132.22,373.66 h4"/>
<path d="M159.15,366.21 V372.17 M157.15,366.21 h4 M157.15,372.17 h4"/>
</g>
<path d="M34.50,431.40 L37.50,436.80 L31.50,436.80 Z" fill="#9C9C9C"/>
<path d="M40.73,409.88 L43.73,415.28 L37.73,415.28 Z" fill="#9C9C9C"/>
<path d="M46.97,389.03 L49.97,394.43 L43.97,394.43 Z" fill="#9C9C9C"/>
<path d="M53.20,380.09 L56.20,385.49 L50.20,385.49 Z" fill="#9C9C9C"/>
<path d="M59.43,376.12 L62.43,381.52 L56.43,381.52 Z" fill="#9C9C9C"/>
<path d="M84.36,371.82 L87.36,377.22 L81.36,377.22 Z" fill="#9C9C9C"/>
<path d="M109.29,369.01 L112.29,374.41 L106.29,374.41 Z" fill="#9C9C9C"/>
<path d="M134.22,367.68 L137.22,373.08 L131.22,373.08 Z" fill="#9C9C9C"/>
<path d="M159.15,366.19 L162.15,371.59 L156.15,371.59 Z" fill="#9C9C9C"/>
<path d="M34.50,434.40 C35.54,431.09 38.66,420.99 40.73,414.54 C42.81,408.09 44.89,400.17 46.97,395.67 C49.04,391.18 51.12,389.66 53.20,387.56 C55.27,385.47 54.24,384.45 59.43,383.09 C64.62,381.74 76.05,380.53 84.36,379.45 C92.67,378.38 100.98,377.30 109.29,376.64 C117.60,375.98 125.91,375.92 134.22,375.48 C142.53,375.04 154.99,374.24 159.15,373.99" stroke="#F8BA00" stroke-width="1.6" fill="none"/>
<g stroke="#3a3a3a" stroke-width="0.7">
<path d="M40.73,413.22 V415.86 M38.73,413.22 h4 M38.73,415.86 h4"/>
<path d="M46.97,393.69 V397.66 M44.97,393.69 h4 M44.97,397.66 h4"/>
<path d="M53.20,385.08 V390.05 M51.20,385.08 h4 M51.20,390.05 h4"/>
<path d="M59.43,380.61 V385.58 M57.43,380.61 h4 M57.43,385.58 h4"/>
<path d="M84.36,376.47 V382.43 M82.36,376.47 h4 M82.36,382.43 h4"/>
<path d="M109.29,373.66 V379.62 M107.29,373.66 h4 M107.29,379.62 h4"/>
<path d="M134.22,372.50 V378.46 M132.22,372.50 h4 M132.22,378.46 h4"/>
<path d="M159.15,371.01 V376.97 M157.15,371.01 h4 M157.15,376.97 h4"/>
</g>
<path d="M32.20,432.10 L36.80,436.70 M32.20,436.70 L36.80,432.10" stroke="#F8BA00" stroke-width="1"/>
<path d="M38.43,412.24 L43.03,416.84 M38.43,416.84 L43.03,412.24" stroke="#F8BA00" stroke-width="1"/>
<path d="M44.67,393.37 L49.27,397.97 M44.67,397.97 L49.27,393.37" stroke="#F8BA00" stroke-width="1"/>
<path d="M50.90,385.26 L55.50,389.86 M50.90,389.86 L55.50,385.26" stroke="#F8BA00" stroke-width="1"/>
<path d="M57.13,380.79 L61.73,385.39 M57.13,385.39 L61.73,380.79" stroke="#F8BA00" stroke-width="1"/>
<path d="M82.06,377.15 L86.66,381.75 M82.06,381.75 L86.66,377.15" stroke="#F8BA00" stroke-width="1"/>
<path d="M106.99,374.34 L111.59,378.94 M106.99,378.94 L111.59,374.34" stroke="#F8BA00" stroke-width="1"/>
<path d="M131.92,373.18 L136.52,377.78 M131.92,377.78 L136.52,373.18" stroke="#F8BA00" stroke-width="1"/>
<path d="M156.85,371.69 L161.45,376.29 M156.85,376.29 L161.45,371.69" stroke="#F8BA00" stroke-width="1"/>
<path d="M34.50,434.40 C35.54,431.37 38.66,421.99 40.73,416.19 C42.81,410.40 44.89,403.29 46.97,399.64 C49.04,396.00 51.12,396.14 53.20,394.35 C55.27,392.56 54.24,390.43 59.43,388.89 C64.62,387.34 76.05,386.05 84.36,385.08 C92.67,384.12 100.98,383.59 109.29,383.09 C117.60,382.60 125.91,382.46 134.22,382.10 C142.53,381.74 154.99,381.14 159.15,380.94" stroke="#5595D2" stroke-width="1.6" fill="none"/>
<g stroke="#3a3a3a" stroke-width="0.7">
<path d="M40.73,414.87 V417.52 M38.73,414.87 h4 M38.73,417.52 h4"/>
<path d="M46.97,397.16 V402.13 M44.97,397.16 h4 M44.97,402.13 h4"/>
<path d="M53.20,391.04 V397.66 M51.20,391.04 h4 M51.20,397.66 h4"/>
<path d="M59.43,385.58 V392.20 M57.43,385.58 h4 M57.43,392.20 h4"/>
<path d="M84.36,381.77 V388.39 M82.36,381.77 h4 M82.36,388.39 h4"/>
<path d="M109.29,379.78 V386.40 M107.29,379.78 h4 M107.29,386.40 h4"/>
<path d="M134.22,378.79 V385.41 M132.22,378.79 h4 M132.22,385.41 h4"/>
<path d="M159.15,377.63 V384.25 M157.15,377.63 h4 M157.15,384.25 h4"/>
</g>
<path d="M32.10,432.00 L36.90,436.80 M32.10,436.80 L36.90,432.00 M34.50,432.00 L34.50,436.80" stroke="#5595D2" stroke-width="1"/>
<path d="M38.33,413.80 L43.13,418.59 M38.33,418.59 L43.13,413.80 M40.73,413.80 L40.73,418.59" stroke="#5595D2" stroke-width="1"/>
<path d="M44.57,397.25 L49.37,402.04 M44.57,402.04 L49.37,397.25 M46.97,397.25 L46.97,402.04" stroke="#5595D2" stroke-width="1"/>
<path d="M50.80,391.95 L55.60,396.75 M50.80,396.75 L55.60,391.95 M53.20,391.95 L53.20,396.75" stroke="#5595D2" stroke-width="1"/>
<path d="M57.03,386.49 L61.83,391.29 M57.03,391.29 L61.83,386.49 M59.43,386.49 L59.43,391.29" stroke="#5595D2" stroke-width="1"/>
<path d="M81.96,382.68 L86.76,387.48 M81.96,387.48 L86.76,382.68 M84.36,382.68 L84.36,387.48" stroke="#5595D2" stroke-width="1"/>
<path d="M106.89,380.69 L111.69,385.49 M106.89,385.49 L111.69,380.69 M109.29,380.69 L109.29,385.49" stroke="#5595D2" stroke-width="1"/>
<path d="M131.82,379.70 L136.62,384.50 M131.82,384.50 L136.62,379.70 M134.22,379.70 L134.22,384.50" stroke="#5595D2" stroke-width="1"/>
<path d="M156.75,378.54 L161.55,383.34 M156.75,383.34 L161.55,378.54 M159.15,378.54 L159.15,383.34" stroke="#5595D2" stroke-width="1"/>
<path d="M34.50,434.40 C35.54,431.70 38.66,422.37 40.73,418.18 C42.81,413.99 44.89,411.62 46.97,409.24 C49.04,406.87 51.12,405.55 53.20,403.95 C55.27,402.35 54.24,400.86 59.43,399.64 C64.62,398.43 76.05,397.55 84.36,396.67 C92.67,395.78 100.98,394.98 109.29,394.35 C117.60,393.71 125.91,393.33 134.22,392.86 C142.53,392.39 154.99,391.76 159.15,391.54" stroke="#68A642" stroke-width="1.6" fill="none"/>
<g stroke="#3a3a3a" stroke-width="0.7">
<path d="M40.73,416.86 V419.50 M38.73,416.86 h4 M38.73,419.50 h4"/>
<path d="M46.97,406.76 V411.73 M44.97,406.76 h4 M44.97,411.73 h4"/>
<path d="M53.20,400.64 V407.26 M51.20,400.64 h4 M51.20,407.26 h4"/>
<path d="M59.43,396.33 V402.95 M57.43,396.33 h4 M57.43,402.95 h4"/>
<path d="M84.36,393.02 V400.31 M82.36,393.02 h4 M82.36,400.31 h4"/>
<path d="M109.29,390.21 V398.49 M107.29,390.21 h4 M107.29,398.49 h4"/>
<path d="M134.22,388.72 V397.00 M132.22,388.72 h4 M132.22,397.00 h4"/>
<path d="M159.15,387.40 V395.67 M157.15,387.40 h4 M157.15,395.67 h4"/>
</g>
<circle cx="34.50" cy="434.40" r="2.90" fill="#68A642"/>
<circle cx="40.73" cy="418.18" r="2.90" fill="#68A642"/>
<circle cx="46.97" cy="409.24" r="2.90" fill="#68A642"/>
<circle cx="53.20" cy="403.95" r="2.90" fill="#68A642"/>
<circle cx="59.43" cy="399.64" r="2.90" fill="#68A642"/>
<circle cx="84.36" cy="396.67" r="2.90" fill="#68A642"/>
<circle cx="109.29" cy="394.35" r="2.90" fill="#68A642"/>
<circle cx="134.22" cy="392.86" r="2.90" fill="#68A642"/>
<circle cx="159.15" cy="391.54" r="2.90" fill="#68A642"/>
<text x="59.12" y="326.50" font-size="8.70" text-anchor="start" fill="#111" stroke="#111" stroke-width="0.22" textLength="143.59" lengthAdjust="spacingAndGlyphs">Stability of TF-Asp maintained at 37°C</text>
<text x="31.93" y="327.60" font-size="13.20" text-anchor="start" fill="#111" font-weight="bold" stroke="#111" stroke-width="0.60" textLength="5.24" lengthAdjust="spacingAndGlyphs">c</text>
<text x="117.50" y="459.50" font-size="8.20" text-anchor="middle" fill="#222" font-weight="bold" textLength="35.00" lengthAdjust="spacingAndGlyphs">Time/min</text>
<text x="13.10" y="388.60" font-size="7.80" text-anchor="middle" fill="#222" font-weight="bold" textLength="117.00" lengthAdjust="spacingAndGlyphs" transform="rotate(-90 13.10 388.60)">Release of Aspirin from TF / mg</text>
<line x1="199.40" y1="341.10" x2="217.20" y2="341.10" stroke="#3D69C0" stroke-width="1.8"/>
<path d="M208.30,338.50 L210.90,341.10 L208.30,343.70 L205.70,341.10 Z" fill="#3D69C0"/>
<text x="218.28" y="344.10" font-size="9.00" text-anchor="start" fill="#222" stroke="#222" stroke-width="0.22" textLength="15.55" lengthAdjust="spacingAndGlyphs">Free</text>
<line x1="199.40" y1="358.10" x2="217.20" y2="358.10" stroke="#E8772D" stroke-width="1.8"/>
<rect x="205.80" y="355.60" width="5.00" height="5.00" fill="#E8772D"/>
<text x="218.28" y="361.10" font-size="9.00" text-anchor="start" fill="#222" stroke="#222" stroke-width="0.22" textLength="29.16" lengthAdjust="spacingAndGlyphs">Baseline</text>
<line x1="199.40" y1="375.30" x2="217.20" y2="375.30" stroke="#9C9C9C" stroke-width="1.8"/>
<path d="M208.30,372.30 L211.30,377.70 L205.30,377.70 Z" fill="#9C9C9C"/>
<text x="218.62" y="378.30" font-size="9.00" text-anchor="start" fill="#222" stroke="#222" stroke-width="0.22" textLength="49.94" lengthAdjust="spacingAndGlyphs">37°C - 90 Days</text>
<line x1="199.40" y1="392.50" x2="217.20" y2="392.50" stroke="#F8BA00" stroke-width="1.8"/>
<path d="M206.00,390.20 L210.60,394.80 M206.00,394.80 L210.60,390.20" stroke="#F8BA00" stroke-width="1"/>
<text x="218.62" y="395.50" font-size="9.00" text-anchor="start" fill="#222" stroke="#222" stroke-width="0.22" textLength="49.94" lengthAdjust="spacingAndGlyphs">37°C - 60 Days</text>
<line x1="199.40" y1="409.50" x2="217.20" y2="409.50" stroke="#5595D2" stroke-width="1.8"/>
<path d="M205.90,407.10 L210.70,411.90 M205.90,411.90 L210.70,407.10 M208.30,407.10 L208.30,411.90" stroke="#5595D2" stroke-width="1"/>
<text x="218.62" y="412.50" font-size="9.00" text-anchor="start" fill="#222" stroke="#222" stroke-width="0.22" textLength="49.94" lengthAdjust="spacingAndGlyphs">37°C - 30 Days</text>
<line x1="199.40" y1="427.00" x2="217.20" y2="427.00" stroke="#68A642" stroke-width="1.8"/>
<circle cx="208.30" cy="427.00" r="2.90" fill="#68A642"/>
<text x="218.62" y="430.00" font-size="9.00" text-anchor="start" fill="#222" stroke="#222" stroke-width="0.22" textLength="49.94" lengthAdjust="spacingAndGlyphs">37°C - 15 Days</text>
<g stroke="#CBCBCB" stroke-width="1" fill="none">
<line x1="315.40" y1="16.60" x2="315.40" y2="128.80"/>
<line x1="312.40" y1="128.80" x2="315.40" y2="128.80"/>
<line x1="312.40" y1="106.36" x2="315.40" y2="106.36"/>
<line x1="312.40" y1="83.92" x2="315.40" y2="83.92"/>
<line x1="312.40" y1="61.48" x2="315.40" y2="61.48"/>
<line x1="312.40" y1="39.04" x2="315.40" y2="39.04"/>
<line x1="312.40" y1="16.60" x2="315.40" y2="16.60"/>
<line x1="315.40" y1="128.80" x2="538.40" y2="128.80" stroke-width="1.3"/>
<line x1="315.40" y1="128.80" x2="315.40" y2="131.80"/>
<line x1="360.00" y1="128.80" x2="360.00" y2="131.80"/>
<line x1="404.60" y1="128.80" x2="404.60" y2="131.80"/>
<line x1="449.20" y1="128.80" x2="449.20" y2="131.80"/>
<line x1="493.80" y1="128.80" x2="493.80" y2="131.80"/>
<line x1="538.40" y1="128.80" x2="538.40" y2="131.80"/>
</g>
<text x="308.00" y="132.10" font-size="8.20" text-anchor="end" fill="#2e2e2e" stroke="#2e2e2e" stroke-width="0.10">0</text>
<text x="308.00" y="109.66" font-size="8.20" text-anchor="end" fill="#2e2e2e" stroke="#2e2e2e" stroke-width="0.10">20</text>
<text x="308.00" y="87.22" font-size="8.20" text-anchor="end" fill="#2e2e2e" stroke="#2e2e2e" stroke-width="0.10">40</text>
<text x="308.00" y="64.78" font-size="8.20" text-anchor="end" fill="#2e2e2e" stroke="#2e2e2e" stroke-width="0.10">60</text>
<text x="308.00" y="42.34" font-size="8.20" text-anchor="end" fill="#2e2e2e" stroke="#2e2e2e" stroke-width="0.10">80</text>
<text x="308.00" y="19.90" font-size="8.20" text-anchor="end" fill="#2e2e2e" stroke="#2e2e2e" stroke-width="0.10">100</text>
<text x="337.70" y="143.30" font-size="8.20" text-anchor="middle" fill="#222" stroke="#222" stroke-width="0.22" textLength="29.50" lengthAdjust="spacingAndGlyphs">Baseline</text>
<text x="382.30" y="143.30" font-size="8.20" text-anchor="middle" fill="#222" stroke="#222" stroke-width="0.22" textLength="28.00" lengthAdjust="spacingAndGlyphs">15 Days</text>
<text x="426.90" y="143.30" font-size="8.20" text-anchor="middle" fill="#222" stroke="#222" stroke-width="0.22" textLength="28.00" lengthAdjust="spacingAndGlyphs">30 Days</text>
<text x="471.50" y="143.30" font-size="8.20" text-anchor="middle" fill="#222" stroke="#222" stroke-width="0.22" textLength="28.00" lengthAdjust="spacingAndGlyphs">60 Days</text>
<text x="516.10" y="143.30" font-size="8.20" text-anchor="middle" fill="#222" stroke="#222" stroke-width="0.22" textLength="28.00" lengthAdjust="spacingAndGlyphs">90 Days</text>
<rect x="328.70" y="42.29" width="18.00" height="86.51" fill="url(#bg)"/>
<path d="M337.70,41.40 V43.19 M335.70,41.40 h4 M335.70,43.19 h4" stroke="#333" stroke-width="0.8" fill="none"/>
<rect x="373.30" y="44.87" width="18.00" height="83.93" fill="url(#bg)"/>
<path d="M382.30,41.62 V48.13 M380.30,41.62 h4 M380.30,48.13 h4" stroke="#333" stroke-width="0.8" fill="none"/>
<rect x="417.90" y="47.68" width="18.00" height="81.12" fill="url(#bg)"/>
<path d="M426.90,44.54 V50.82 M424.90,44.54 h4 M424.90,50.82 h4" stroke="#333" stroke-width="0.8" fill="none"/>
<rect x="462.50" y="54.07" width="18.00" height="74.73" fill="url(#bg)"/>
<path d="M471.50,52.84 V55.31 M469.50,52.84 h4 M469.50,55.31 h4" stroke="#333" stroke-width="0.8" fill="none"/>
<rect x="507.10" y="61.93" width="18.00" height="66.87" fill="url(#bg)"/>
<path d="M516.10,59.01 V64.85 M514.10,59.01 h4 M514.10,64.85 h4" stroke="#333" stroke-width="0.8" fill="none"/>
<text x="343.60" y="15.60" font-size="8.70" text-anchor="start" fill="#1a1a1a" stroke="#1a1a1a" stroke-width="0.22" textLength="128.20" lengthAdjust="spacingAndGlyphs">%Aspirin content inside TF at 4°C</text>
<text x="289.50" y="72.50" font-size="7.80" text-anchor="middle" fill="#222" font-weight="bold" textLength="65.60" lengthAdjust="spacingAndGlyphs" transform="rotate(-90 289.50 72.50)">% Aspirin Content</text>
<g stroke="#CBCBCB" stroke-width="1" fill="none">
<line x1="317.00" y1="168.40" x2="317.00" y2="286.00"/>
<line x1="314.00" y1="286.00" x2="317.00" y2="286.00"/>
<line x1="314.00" y1="262.48" x2="317.00" y2="262.48"/>
<line x1="314.00" y1="238.96" x2="317.00" y2="238.96"/>
<line x1="314.00" y1="215.44" x2="317.00" y2="215.44"/>
<line x1="314.00" y1="191.92" x2="317.00" y2="191.92"/>
<line x1="314.00" y1="168.40" x2="317.00" y2="168.40"/>
<line x1="317.00" y1="286.00" x2="538.50" y2="286.00" stroke-width="1.3"/>
<line x1="317.00" y1="286.00" x2="317.00" y2="289.00"/>
<line x1="361.30" y1="286.00" x2="361.30" y2="289.00"/>
<line x1="405.60" y1="286.00" x2="405.60" y2="289.00"/>
<line x1="449.90" y1="286.00" x2="449.90" y2="289.00"/>
<line x1="494.20" y1="286.00" x2="494.20" y2="289.00"/>
<line x1="538.50" y1="286.00" x2="538.50" y2="289.00"/>
</g>
<text x="308.30" y="289.30" font-size="8.20" text-anchor="end" fill="#2e2e2e" stroke="#2e2e2e" stroke-width="0.10">0</text>
<text x="308.30" y="265.78" font-size="8.20" text-anchor="end" fill="#2e2e2e" stroke="#2e2e2e" stroke-width="0.10">20</text>
<text x="308.30" y="242.26" font-size="8.20" text-anchor="end" fill="#2e2e2e" stroke="#2e2e2e" stroke-width="0.10">40</text>
<text x="308.30" y="218.74" font-size="8.20" text-anchor="end" fill="#2e2e2e" stroke="#2e2e2e" stroke-width="0.10">60</text>
<text x="308.30" y="195.22" font-size="8.20" text-anchor="end" fill="#2e2e2e" stroke="#2e2e2e" stroke-width="0.10">80</text>
<text x="308.30" y="171.70" font-size="8.20" text-anchor="end" fill="#2e2e2e" stroke="#2e2e2e" stroke-width="0.10">100</text>
<text x="339.15" y="301.30" font-size="8.20" text-anchor="middle" fill="#222" stroke="#222" stroke-width="0.22" textLength="29.50" lengthAdjust="spacingAndGlyphs">Baseline</text>
<text x="383.45" y="301.30" font-size="8.20" text-anchor="middle" fill="#222" stroke="#222" stroke-width="0.22" textLength="28.00" lengthAdjust="spacingAndGlyphs">15 Days</text>
<text x="427.75" y="301.30" font-size="8.20" text-anchor="middle" fill="#222" stroke="#222" stroke-width="0.22" textLength="28.00" lengthAdjust="spacingAndGlyphs">30 Days</text>
<text x="472.05" y="301.30" font-size="8.20" text-anchor="middle" fill="#222" stroke="#222" stroke-width="0.22" textLength="28.00" lengthAdjust="spacingAndGlyphs">60 Days</text>
<text x="516.35" y="301.30" font-size="8.20" text-anchor="middle" fill="#222" stroke="#222" stroke-width="0.22" textLength="28.00" lengthAdjust="spacingAndGlyphs">90 Days</text>
<rect x="330.40" y="195.10" width="17.50" height="90.90" fill="url(#bg)"/>
<path d="M339.15,194.15 V196.04 M337.15,194.15 h4 M337.15,196.04 h4" stroke="#333" stroke-width="0.8" fill="none"/>
<rect x="374.70" y="201.92" width="17.50" height="84.08" fill="url(#bg)"/>
<path d="M383.45,201.21 V202.62 M381.45,201.21 h4 M381.45,202.62 h4" stroke="#333" stroke-width="0.8" fill="none"/>
<rect x="419.00" y="213.32" width="17.50" height="72.68" fill="url(#bg)"/>
<path d="M427.75,206.62 V220.03 M425.75,206.62 h4 M425.75,220.03 h4" stroke="#333" stroke-width="0.8" fill="none"/>
<rect x="463.30" y="222.38" width="17.50" height="63.62" fill="url(#bg)"/>
<path d="M472.05,220.61 V224.14 M470.05,220.61 h4 M470.05,224.14 h4" stroke="#333" stroke-width="0.8" fill="none"/>
<rect x="507.60" y="234.73" width="17.50" height="51.27" fill="url(#bg)"/>
<path d="M516.35,233.55 V235.90 M514.35,233.55 h4 M514.35,235.90 h4" stroke="#333" stroke-width="0.8" fill="none"/>
<text x="339.90" y="169.20" font-size="8.70" text-anchor="start" fill="#1a1a1a" stroke="#1a1a1a" stroke-width="0.22" textLength="131.50" lengthAdjust="spacingAndGlyphs">%Aspirin content inside TF at 25°C</text>
<text x="290.80" y="228.20" font-size="7.80" text-anchor="middle" fill="#222" font-weight="bold" textLength="65.00" lengthAdjust="spacingAndGlyphs" transform="rotate(-90 290.80 228.20)">% Aspirin Content</text>
<g stroke="#CBCBCB" stroke-width="1" fill="none">
<line x1="313.40" y1="316.40" x2="313.40" y2="434.70"/>
<line x1="310.40" y1="434.70" x2="313.40" y2="434.70"/>
<line x1="310.40" y1="411.04" x2="313.40" y2="411.04"/>
<line x1="310.40" y1="387.38" x2="313.40" y2="387.38"/>
<line x1="310.40" y1="363.72" x2="313.40" y2="363.72"/>
<line x1="310.40" y1="340.06" x2="313.40" y2="340.06"/>
<line x1="310.40" y1="316.40" x2="313.40" y2="316.40"/>
<line x1="313.40" y1="434.70" x2="543.40" y2="434.70" stroke-width="1.3"/>
<line x1="313.40" y1="434.70" x2="313.40" y2="437.70"/>
<line x1="359.40" y1="434.70" x2="359.40" y2="437.70"/>
<line x1="405.40" y1="434.70" x2="405.40" y2="437.70"/>
<line x1="451.40" y1="434.70" x2="451.40" y2="437.70"/>
<line x1="497.40" y1="434.70" x2="497.40" y2="437.70"/>
<line x1="543.40" y1="434.70" x2="543.40" y2="437.70"/>
</g>
<text x="305.50" y="438.00" font-size="8.20" text-anchor="end" fill="#2e2e2e" stroke="#2e2e2e" stroke-width="0.10">0</text>
<text x="305.50" y="414.34" font-size="8.20" text-anchor="end" fill="#2e2e2e" stroke="#2e2e2e" stroke-width="0.10">20</text>
<text x="305.50" y="390.68" font-size="8.20" text-anchor="end" fill="#2e2e2e" stroke="#2e2e2e" stroke-width="0.10">40</text>
<text x="305.50" y="367.02" font-size="8.20" text-anchor="end" fill="#2e2e2e" stroke="#2e2e2e" stroke-width="0.10">60</text>
<text x="305.50" y="343.36" font-size="8.20" text-anchor="end" fill="#2e2e2e" stroke="#2e2e2e" stroke-width="0.10">80</text>
<text x="305.50" y="319.70" font-size="8.20" text-anchor="end" fill="#2e2e2e" stroke="#2e2e2e" stroke-width="0.10">100</text>
<text x="336.40" y="449.00" font-size="8.20" text-anchor="middle" fill="#222" stroke="#222" stroke-width="0.22" textLength="29.50" lengthAdjust="spacingAndGlyphs">Baseline</text>
<text x="382.40" y="449.00" font-size="8.20" text-anchor="middle" fill="#222" stroke="#222" stroke-width="0.22" textLength="28.50" lengthAdjust="spacingAndGlyphs">15 Days</text>
<text x="428.40" y="449.00" font-size="8.20" text-anchor="middle" fill="#222" stroke="#222" stroke-width="0.22" textLength="28.00" lengthAdjust="spacingAndGlyphs">30 Days</text>
<text x="474.40" y="449.00" font-size="8.20" text-anchor="middle" fill="#222" stroke="#222" stroke-width="0.22" textLength="28.00" lengthAdjust="spacingAndGlyphs">60 Days</text>
<text x="520.40" y="449.00" font-size="8.20" text-anchor="middle" fill="#222" stroke="#222" stroke-width="0.22" textLength="28.00" lengthAdjust="spacingAndGlyphs">90 Days</text>
<rect x="327.00" y="343.61" width="18.80" height="91.09" fill="url(#bg)"/>
<path d="M336.40,342.90 V344.32 M334.40,342.90 h4 M334.40,344.32 h4" stroke="#333" stroke-width="0.8" fill="none"/>
<rect x="373.00" y="364.78" width="18.80" height="69.92" fill="url(#bg)"/>
<path d="M382.40,360.76 V368.81 M380.40,360.76 h4 M380.40,368.81 h4" stroke="#333" stroke-width="0.8" fill="none"/>
<rect x="419.00" y="377.21" width="18.80" height="57.49" fill="url(#bg)"/>
<path d="M428.40,373.66 V380.76 M426.40,373.66 h4 M426.40,380.76 h4" stroke="#333" stroke-width="0.8" fill="none"/>
<rect x="465.00" y="384.30" width="18.80" height="50.40" fill="url(#bg)"/>
<path d="M474.40,380.99 V387.62 M472.40,380.99 h4 M472.40,387.62 h4" stroke="#333" stroke-width="0.8" fill="none"/>
<rect x="511.00" y="390.46" width="18.80" height="44.24" fill="url(#bg)"/>
<path d="M520.40,389.98 V390.93 M518.40,389.98 h4 M518.40,390.93 h4" stroke="#333" stroke-width="0.8" fill="none"/>
<text x="347.50" y="333.60" font-size="8.70" text-anchor="start" fill="#1a1a1a" stroke="#1a1a1a" stroke-width="0.22" textLength="133.50" lengthAdjust="spacingAndGlyphs">% Aspirin content inside TF at 37°C</text>
<text x="288.30" y="372.40" font-size="7.80" text-anchor="middle" fill="#222" font-weight="bold" textLength="70.70" lengthAdjust="spacingAndGlyphs" transform="rotate(-90 288.30 372.40)">% Aspirin Content</text>
</svg></body></html>
